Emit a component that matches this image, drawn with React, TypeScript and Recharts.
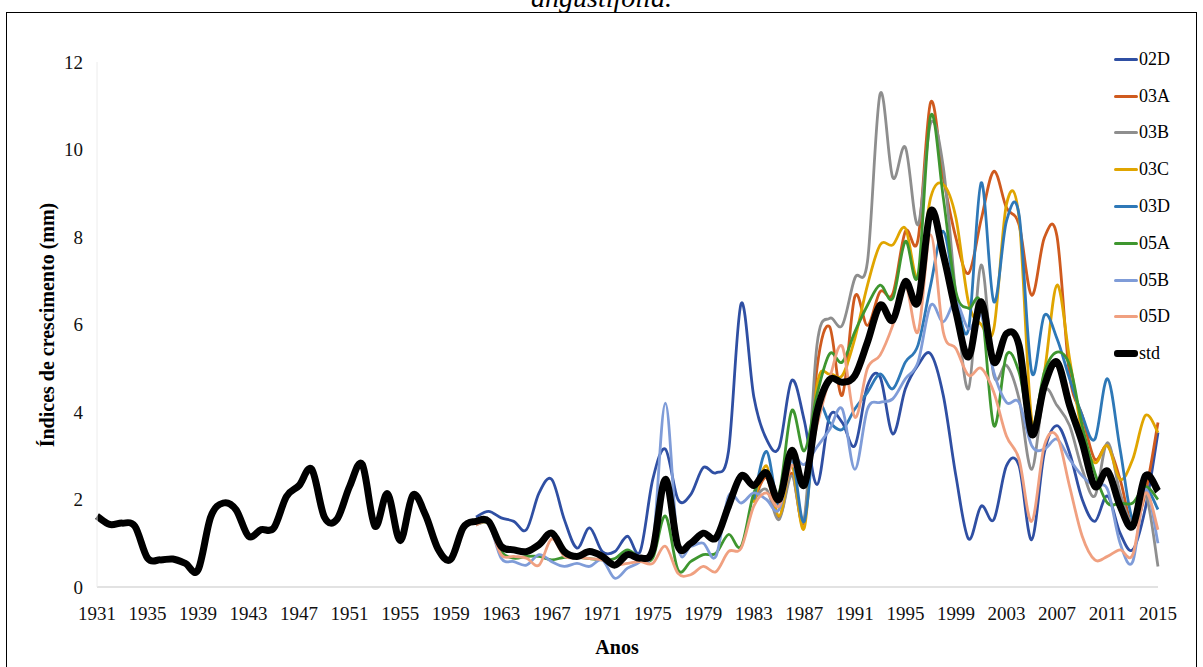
import { LineChart, Line, XAxis, YAxis, Legend } from 'recharts';

// categories (anos)
const years = [
  1931, 1932, 1933, 1934, 1935, 1936, 1937, 1938, 1939, 1940,
  1941, 1942, 1943, 1944, 1945, 1946, 1947, 1948, 1949, 1950,
  1951, 1952, 1953, 1954, 1955, 1956, 1957, 1958, 1959, 1960,
  1961, 1962, 1963, 1964, 1965, 1966, 1967, 1968, 1969, 1970,
  1971, 1972, 1973, 1974, 1975, 1976, 1977, 1978, 1979, 1980,
  1981, 1982, 1983, 1984, 1985, 1986, 1987, 1988, 1989, 1990,
  1991, 1992, 1993, 1994, 1995, 1996, 1997, 1998, 1999, 2000,
  2001, 2002, 2003, 2004, 2005, 2006, 2007, 2008, 2009, 2010,
  2011, 2012, 2013, 2014, 2015,
];

// std chronology, 1931-2015
const std = [
  1.62, 1.43, 1.46, 1.39, 0.66, 0.62, 0.64, 0.54, 0.39, 1.6,
  1.92, 1.77, 1.16, 1.31, 1.35, 2.07, 2.32, 2.69, 1.6, 1.55,
  2.3, 2.8, 1.39, 2.13, 1.06, 2.1, 1.65, 0.87, 0.63, 1.36,
  1.5, 1.5, 0.93, 0.85, 0.81, 0.97, 1.23, 0.81, 0.7, 0.81,
  0.7, 0.5, 0.74, 0.66, 0.85, 2.46, 0.93, 1.0, 1.23, 1.12,
  1.85, 2.54, 2.32, 2.61, 2.0, 3.12, 2.33, 4.0, 4.74, 4.68,
  4.83, 5.6, 6.44, 6.1, 6.98, 6.52, 8.59, 7.6, 6.29, 5.26,
  6.52, 5.14, 5.79, 5.52, 3.49, 4.6, 5.14, 4.15, 3.3, 2.3,
  2.65, 1.85, 1.39, 2.54, 2.19,
];

// trees sampled from 1961
const start05 = 1961;
const s02D = [
  1.6, 1.73, 1.58, 1.5, 1.31, 2.15, 2.46, 1.54, 0.89, 1.35,
  0.81, 0.81, 1.16, 0.81, 2.46, 3.15, 2.0, 2.11, 2.73, 2.61,
  3.11, 6.48, 4.35, 3.38, 3.19, 4.72, 3.8, 2.34, 3.9, 3.76,
  3.23, 4.6, 4.8, 3.5, 4.53, 5.07, 5.33, 4.38, 2.54, 1.1,
  1.85, 1.54, 2.77, 2.77, 1.08, 3.07, 3.69, 3.07, 2.0, 1.5,
  2.08, 1.23, 0.85, 1.8, 3.53,
];
const s05A = [
  1.42, 1.45, 0.81, 0.66, 0.7, 0.7, 0.62, 0.68, 0.68, 0.65,
  0.62, 0.65, 0.85, 0.66, 0.66, 1.62, 0.39, 0.58, 0.74, 0.77,
  1.2, 0.93, 2.15, 2.57, 2.15, 4.03, 3.11, 4.4, 5.33, 5.14,
  5.83, 6.44, 6.9, 6.6, 7.9, 7.13, 10.77, 8.9, 6.75, 6.37,
  6.44, 3.69, 5.3, 4.91, 3.6, 4.91, 5.37, 5.07, 3.69, 2.61,
  1.92, 1.92, 1.92, 2.3, 2.0,
];
const s05B = [
  1.42, 1.46, 0.66, 0.58, 0.5, 0.74, 0.58, 0.47, 0.54, 0.47,
  0.62, 0.2, 0.43, 0.58, 0.93, 4.2, 0.93, 0.93, 1.0, 0.7,
  2.08, 1.92, 2.15, 2.0, 1.77, 2.92, 2.8, 3.2, 3.6, 4.07,
  2.69, 4.07, 4.22, 4.3, 4.76, 5.14, 6.44, 6.06, 6.52, 5.9,
  6.21, 4.91, 4.22, 4.22, 3.23, 3.15, 3.38, 2.92, 2.54, 2.3,
  2.23, 1.0, 0.58, 2.23, 1.0,
];
const s05D = [
  1.42, 1.45, 0.74, 0.7, 0.66, 0.5, 1.1, 0.7, 0.68, 0.65,
  0.62, 0.5, 0.54, 0.58, 0.54, 0.93, 0.31, 0.28, 0.47, 0.35,
  0.81, 0.89, 1.85, 2.15, 1.85, 2.77, 2.46, 3.69, 4.76, 5.5,
  3.88, 5.0, 5.3, 5.98, 6.9, 5.83, 8.05, 5.83, 5.45, 4.84,
  5.0, 4.45, 3.45, 2.92, 1.5, 3.23, 3.45, 2.3, 1.16, 0.62,
  0.7, 0.85, 0.74, 2.15, 1.31,
];

// trees sampled from 1983
const start03 = 1983;
const s03A = [
  1.95, 2.5, 1.6, 2.6, 1.5, 5.0, 5.95, 4.38,
  6.64, 5.98, 6.75, 6.7, 8.13, 7.94, 11.08, 9.36, 7.98, 7.17,
  8.4, 9.5, 8.67, 8.28, 6.67, 7.98, 8.02, 4.84, 3.92, 2.92,
  3.23, 2.46, 1.39, 2.15, 3.76,
];
const s03B = [
  2.0, 2.23, 1.54, 2.54, 1.58, 5.53, 6.14, 5.98,
  7.06, 7.44, 11.27, 9.36, 10.05, 8.28, 10.6, 9.6, 6.67, 4.53,
  7.36, 4.84, 5.07, 4.3, 2.69, 4.45, 4.15, 3.69, 2.69, 2.08,
  3.3, 2.15, 1.46, 2.15, 0.47,
];
const s03C = [
  1.92, 2.77, 1.62, 2.77, 1.35, 4.6, 4.87, 4.83,
  5.68, 6.9, 7.82, 7.82, 8.2, 7.06, 8.9, 9.2, 8.44, 6.5,
  6.0, 5.9, 8.74, 8.44, 3.84, 4.91, 6.9, 5.22, 3.53, 2.84,
  3.23, 2.46, 2.92, 3.92, 3.53,
];
const s03D = [
  2.0, 3.1, 1.85, 2.96, 1.5, 4.07, 3.76, 3.6,
  4.07, 4.45, 4.87, 4.53, 5.14, 5.53, 6.9, 8.13, 6.67, 5.9,
  9.24, 6.52, 8.36, 8.51, 4.91, 6.21, 5.68, 4.76, 3.92, 3.38,
  4.76, 3.15, 1.54, 2.23, 1.77,
];

const yTicks = [0, 2, 4, 6, 8, 10, 12];

const series = [
  { key: '02D', values: s02D, from: start05, color: '#2f4fa3' },
  { key: '03A', values: s03A, from: start03, color: '#cf5a1e' },
  { key: '03B', values: s03B, from: start03, color: '#8e8e8e' },
  { key: '03C', values: s03C, from: start03, color: '#e0a500' },
  { key: '03D', values: s03D, from: start03, color: '#2e78b7' },
  { key: '05A', values: s05A, from: start05, color: '#3e962f' },
  { key: '05B', values: s05B, from: start05, color: '#7f9cd8' },
  { key: '05D', values: s05D, from: start05, color: '#f0a080' },
];

const data = years.map((year, i) => {
  const row: Record<string, number | null> = { year, std: std[i] };
  series.forEach((s) => {
    const v = s.values[year - s.from];
    row[s.key] = v === undefined ? null : v;
  });
  return row;
});

// Excel-like smoothing (Catmull-Rom through every point)
const excelSmooth = (context: any) => {
  let pts: number[][] = [];
  return {
    areaStart() {},
    areaEnd() {},
    lineStart() {
      pts = [];
    },
    point(x: number, y: number) {
      pts.push([+x, +y]);
    },
    lineEnd() {
      const n = pts.length;
      if (!n) return;
      context.moveTo(pts[0][0], pts[0][1]);
      for (let i = 0; i < n - 1; i++) {
        const p0 = pts[Math.max(i - 1, 0)];
        const p1 = pts[i];
        const p2 = pts[i + 1];
        const p3 = pts[Math.min(i + 2, n - 1)];
        context.bezierCurveTo(
          p1[0] + (p2[0] - p0[0]) / 6,
          p1[1] + (p2[1] - p0[1]) / 6,
          p2[0] - (p3[0] - p1[0]) / 6,
          p2[1] - (p3[1] - p1[1]) / 6,
          p2[0],
          p2[1]
        );
      }
    },
  };
};

const font = '"Liberation Serif", "Times New Roman", serif';

const renderLegend = (props: any) => {
  const items = props.payload || [];
  return (
    <div style={{ fontFamily: font, fontSize: 18, color: '#000' }}>
      {items.map((it: any) => (
        <div key={it.value} style={{ display: 'flex', alignItems: 'center', height: 36.8 }}>
          <span
            style={{
              display: 'inline-block',
              width: 24,
              height: it.value === 'std' ? 7 : 3,
              background: it.color,
              borderRadius: 3,
              marginRight: 1,
            }}
          />
          <span>{it.value}</span>
        </div>
      ))}
    </div>
  );
};

const App = () => {
  return (
    <div style={{ position: 'relative', width: 1203, height: 667, overflow: 'hidden', background: '#fff' }}>
      <style>{'body{margin:0;background:#fff}'}</style>
      <div
        style={{
          position: 'absolute',
          top: -16,
          left: 0,
          width: 1203,
          textAlign: 'center',
          fontFamily: font,
          fontStyle: 'italic',
          fontSize: 28,
          lineHeight: '28px',
        }}
      >
        angustifolia.
      </div>
      <div
        style={{
          position: 'absolute',
          left: 6,
          top: 12,
          width: 1189,
          height: 700,
          border: '1.5px solid #000',
        }}
      />
      <div style={{ position: 'absolute', left: 0, top: 0 }}>
        <LineChart width={1203} height={667} data={data} margin={{ top: 62, right: 45, bottom: 40, left: 57 }}>
          <XAxis
            dataKey='year'
            interval={3}
            height={40}
            axisLine={{ stroke: '#d9d9d9', strokeWidth: 1.5 }}
            tickLine={false}
            tickSize={0}
            tickMargin={20}
            tick={{ fontFamily: font, fontSize: 19, fill: '#111' }}
          />
          <YAxis
            domain={[0, 12]}
            ticks={yTicks}
            width={40}
            axisLine={{ stroke: '#ececec', strokeWidth: 1 }}
            tickLine={false}
            tickSize={0}
            tickMargin={14}
            tick={{ fontFamily: font, fontSize: 19, fill: '#111' }}
          />
          <Legend
            layout='vertical'
            align='center'
            verticalAlign='middle'
            content={renderLegend}
            wrapperStyle={{ left: 1114, top: 41, width: 85 }}
          />
          {series.map((s) => (
            <Line
              key={s.key}
              dataKey={s.key}
              name={s.key}
              type={excelSmooth as any}
              stroke={s.color}
              strokeWidth={2.8}
              dot={false}
              activeDot={false}
              isAnimationActive={false}
            />
          ))}
          <Line
            dataKey='std'
            name='std'
            type={excelSmooth as any}
            stroke='#000'
            strokeWidth={7}
            strokeLinejoin='round'
            dot={false}
            activeDot={false}
            isAnimationActive={false}
          />
        </LineChart>
      </div>
      <div
        style={{
          position: 'absolute',
          left: 567,
          top: 636,
          width: 100,
          textAlign: 'center',
          fontFamily: font,
          fontWeight: 'bold',
          fontSize: 20,
        }}
      >
        Anos
      </div>
      <div
        style={{
          position: 'absolute',
          left: 47,
          top: 325,
          transform: 'translate(-50%, -50%) rotate(-90deg)',
          whiteSpace: 'nowrap',
          fontFamily: font,
          fontWeight: 'bold',
          fontSize: 20,
        }}
      >
        Índices de crescimento (mm)
      </div>
    </div>
  );
};

export default App;
